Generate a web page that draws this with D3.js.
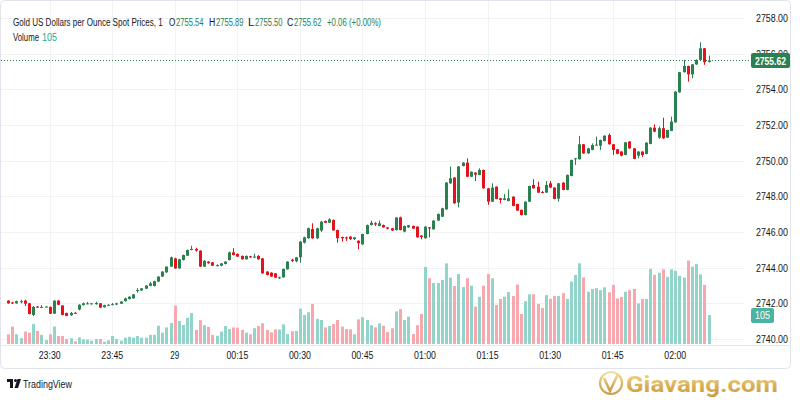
<!DOCTYPE html>
<html><head><meta charset="utf-8">
<script src="https://cdn.jsdelivr.net/npm/d3@7"></script>
<style>
html,body{margin:0;padding:0;background:#fff;}
svg{display:block;font-family:"Liberation Sans",Arial,sans-serif;}
</style>
</head><body>
<svg id="chart" width="800" height="400"></svg>
<script>
// ---- data ----
const startTime = "2024-10-28T23:20:00Z";   // first 1-minute bar
const open = [
2742.15,2742.05,2742.00,2742.08,2742.15,2742.00,2741.35,2741.82,2741.78,2741.80,
2741.80,2741.42,2742.15,2741.88,2741.46,2741.33,2741.47,2741.65,2741.90,2741.98,
2741.95,2741.95,2742.00,2741.78,2741.88,2741.92,2741.93,2741.98,2742.12,2742.24,
2742.28,2742.72,2742.72,2742.82,2742.98,2742.97,2743.22,2743.50,2743.74,2744.06,
2744.52,2743.96,2744.43,2744.67,2744.99,2745.05,2744.95,2744.06,2744.34,2744.30,
2744.12,2744.11,2744.21,2744.43,2744.86,2744.77,2744.66,2744.47,2744.64,2744.60,
2744.66,2744.52,2743.78,2743.72,2743.68,2743.42,2743.46,2743.91,2744.45,2744.36,
2744.58,2745.40,2745.65,2746.17,2745.65,2746.08,2746.62,2746.52,2746.67,2746.11,
2745.72,2745.70,2745.74,2745.60,2745.51,2745.31,2745.89,2746.39,2746.49,2746.34,
2746.39,2746.26,2746.21,2746.11,2746.82,2746.02,2746.26,2746.34,2746.30,2745.80,
2745.65,2746.26,2746.15,2746.64,2746.86,2747.27,2748.73,2749.05,2747.65,2749.70,
2749.89,2749.10,2749.33,2749.20,2749.48,2748.45,2747.70,2748.54,2747.89,2747.80,
2747.74,2747.98,2747.57,2747.24,2746.95,2747.70,2748.64,2748.54,2748.24,2748.21,
2748.73,2748.49,2747.87,2748.77,2748.36,2749.14,2750.08,2750.08,2750.92,2750.41,
2750.60,2750.88,2750.84,2751.10,2751.44,2750.92,2750.64,2750.51,2750.32,2751.07,
2750.69,2750.28,2750.51,2750.38,2750.94,2751.85,2751.29,2751.82,2751.29,2751.67,
2752.15,2753.83,2754.96,2755.31,2754.84,2755.40,2755.65,2756.30,2755.54];
const high = [
2742.17,2742.08,2742.15,2742.20,2742.20,2742.02,2741.85,2741.84,2741.90,2741.84,
2741.82,2742.17,2742.18,2741.90,2741.48,2741.52,2741.50,2741.95,2742.05,2742.08,
2742.02,2742.08,2742.02,2741.92,2741.95,2742.02,2742.03,2742.12,2742.32,2742.40,
2742.52,2742.85,2742.86,2743.02,2743.20,2743.27,2743.52,2743.80,2744.08,2744.62,
2744.56,2744.50,2744.73,2745.02,2745.23,2745.12,2744.98,2744.42,2744.36,2744.32,
2744.19,2744.26,2744.36,2744.90,2745.09,2744.80,2744.68,2744.68,2744.66,2744.78,
2744.70,2744.54,2743.80,2743.74,2743.70,2743.50,2743.95,2744.36,2744.50,2744.60,
2745.50,2745.74,2746.25,2746.49,2746.24,2746.62,2746.64,2746.77,2746.70,2746.13,
2745.74,2745.74,2745.76,2745.72,2745.53,2745.90,2746.42,2746.64,2746.55,2746.64,
2746.42,2746.28,2746.23,2746.84,2746.86,2746.36,2746.40,2746.36,2746.32,2745.83,
2746.32,2746.28,2746.66,2747.04,2747.36,2748.80,2749.67,2749.08,2749.70,2749.92,
2750.13,2749.40,2749.35,2749.57,2749.50,2748.47,2748.73,2748.56,2747.91,2748.13,
2748.39,2748.00,2747.59,2747.26,2747.72,2748.60,2748.96,2748.82,2748.30,2748.86,
2748.86,2748.51,2748.75,2748.79,2749.22,2750.06,2750.15,2751.39,2750.94,2750.72,
2750.97,2751.35,2751.18,2751.42,2751.53,2750.94,2750.66,2750.53,2751.05,2751.10,
2750.71,2750.53,2750.53,2751.03,2751.88,2752.04,2751.91,2752.41,2751.74,2752.47,
2753.90,2754.98,2755.65,2755.33,2755.42,2755.68,2756.64,2756.32,2755.89];
const low = [
2741.98,2741.97,2741.98,2742.00,2741.85,2741.38,2741.28,2741.74,2741.76,2741.78,
2741.40,2741.40,2741.90,2741.33,2741.28,2741.30,2741.40,2741.60,2741.88,2741.95,
2741.93,2741.93,2741.74,2741.76,2741.86,2741.90,2741.90,2741.96,2742.10,2742.22,
2742.26,2742.60,2742.70,2742.80,2742.96,2742.95,2743.20,2743.48,2743.70,2744.04,
2743.94,2743.94,2744.40,2744.65,2744.97,2744.90,2744.04,2744.04,2744.22,2744.10,
2744.07,2744.08,2744.18,2744.40,2744.69,2744.60,2744.45,2744.45,2744.55,2744.55,
2744.45,2743.66,2743.57,2743.48,2743.42,2743.37,2743.44,2743.89,2744.32,2744.30,
2744.28,2745.36,2745.62,2745.62,2745.60,2746.00,2746.50,2746.50,2746.07,2745.40,
2745.46,2745.50,2745.55,2745.55,2745.03,2745.28,2745.87,2746.37,2746.34,2746.32,
2746.24,2746.15,2746.06,2746.08,2746.09,2745.98,2746.24,2746.17,2745.68,2745.59,
2745.62,2745.70,2746.13,2746.62,2746.84,2747.25,2748.70,2747.58,2747.38,2749.68,
2749.08,2749.08,2748.86,2749.18,2748.43,2747.52,2747.68,2747.83,2747.61,2747.78,
2747.72,2747.44,2747.18,2746.93,2746.93,2747.68,2748.43,2748.19,2748.17,2748.19,
2748.47,2747.83,2747.70,2748.34,2748.34,2749.12,2749.76,2750.06,2750.39,2750.38,
2750.58,2750.84,2750.60,2751.08,2750.90,2750.32,2750.36,2750.24,2750.30,2750.67,
2750.08,2750.13,2750.20,2750.36,2750.92,2751.60,2751.22,2751.22,2751.27,2751.65,
2752.13,2753.81,2754.94,2754.43,2754.62,2755.37,2755.62,2755.37,2755.50];
const close = [
2742.00,2742.00,2742.12,2742.12,2741.98,2741.40,2741.80,2741.76,2741.80,2741.82,
2741.42,2742.15,2741.92,2741.35,2741.30,2741.46,2741.42,2741.92,2742.00,2742.00,
2742.00,2742.02,2741.76,2741.90,2741.92,2741.95,2742.00,2742.10,2742.28,2742.37,
2742.50,2742.75,2742.84,2743.00,2743.12,2743.24,2743.50,2743.78,2744.06,2744.58,
2743.96,2744.47,2744.71,2744.99,2745.05,2744.96,2744.06,2744.39,2744.25,2744.11,
2744.14,2744.24,2744.34,2744.86,2744.71,2744.62,2744.47,2744.66,2744.58,2744.62,
2744.47,2743.68,2743.59,2743.50,2743.44,2743.46,2743.93,2744.34,2744.38,2744.58,
2745.46,2745.70,2746.21,2745.65,2746.21,2746.58,2746.52,2746.71,2746.09,2745.65,
2745.65,2745.66,2745.60,2745.70,2745.37,2745.89,2746.39,2746.52,2746.42,2746.49,
2746.26,2746.19,2746.08,2746.81,2746.11,2746.34,2746.38,2746.19,2745.70,2745.72,
2746.30,2746.21,2746.64,2747.01,2747.33,2748.77,2749.01,2747.61,2749.67,2749.89,
2749.10,2749.38,2749.22,2749.48,2748.45,2747.70,2748.49,2747.85,2747.80,2747.89,
2747.89,2747.46,2747.20,2746.95,2747.70,2748.58,2748.45,2748.21,2748.20,2748.64,
2748.49,2747.85,2748.73,2748.36,2749.20,2750.04,2750.13,2750.92,2750.41,2750.69,
2750.88,2750.90,2751.16,2751.40,2750.92,2750.60,2750.38,2750.28,2751.03,2750.69,
2750.10,2750.51,2750.32,2751.01,2751.85,2751.63,2751.82,2751.25,2751.72,2752.19,
2753.87,2754.96,2755.31,2754.84,2755.40,2755.65,2756.30,2755.52,2755.62];
const volume = [
35,63,35,21,45,41,72,47,33,14,
35,63,29,29,18,21,10,24,17,16,
12,18,18,8,13,29,18,12,23,26,
23,29,23,23,33,33,66,41,60,76,
139,83,69,95,112,51,86,68,62,33,
30,45,65,54,60,59,51,41,35,57,
65,75,51,42,53,53,71,36,46,47,
128,105,115,145,91,87,60,65,72,87,
63,54,53,35,89,97,87,68,60,75,
66,43,57,118,126,87,99,36,68,109,
279,238,221,221,232,292,240,210,253,206,
238,211,135,171,211,253,238,141,163,171,
188,174,215,109,155,180,180,145,130,177,
163,174,174,184,163,226,250,292,241,189,
199,202,195,205,187,214,165,170,189,195,
199,147,163,163,272,250,258,270,243,270,
265,247,240,302,280,289,252,214,105];
const priceTicks = [2740,2742,2744,2746,2748,2750,2752,2754,2756,2758];
const titleText = "Gold US Dollars per Ounce Spot Prices, 1";
const ohlcLabels = ["O","H","L","C"];
const lastOHLC = [2755.54, 2755.89, 2755.50, 2755.62];
const changeText = "+0.06 (+0.00%)";
const lastVolume = 105;

// ---- styles ----
const UP = "#2b8050", DOWN = "#e3131b";
const VUP = "#92d4c9", VDOWN = "#f6a8ae";
const GRID = "#f0f2f6", TXT = "#131722";

const svg = d3.select("#chart");
const t0 = new Date(startTime);
const times = open.map((_, i) => d3.utcMinute.offset(t0, i));
const x = d3.scaleUtc().domain([times[0], times[times.length - 1]]).range([8, 708.6]);
const y = d3.scaleLinear().domain([2740, 2758]).range([339, 18]);
const yv = d3.scaleLinear().domain([0, 380]).range([344, 239]);

// text helper: draws text then squeezes it horizontally to the wanted width
function fitText(parent, str, px, py, width, opts = {}) {
  const g = parent.append("g");
  const t = g.append("text").attr("x", 0).attr("y", 0)
    .attr("font-size", opts.size || 11.5)
    .attr("fill", opts.fill || TXT)
    .attr("text-anchor", opts.anchor || "start")
    .text(str);
  if (opts.weight) t.attr("font-weight", opts.weight);
  if (opts.family) t.attr("font-family", opts.family);
  if (opts.opacity) t.attr("opacity", opts.opacity);
  const w = t.node().getComputedTextLength() || width;
  g.attr("transform", `translate(${px},${py}) scale(${width / w},1)`);
  return t;
}

// frame
svg.append("rect").attr("x", 0.5).attr("y", 0.5).attr("width", 790).attr("height", 368)
  .attr("rx", 4).attr("fill", "#fff").attr("stroke", "#e0e3eb");

// grid
const gGrid = svg.append("g");
gGrid.selectAll("line.h").data(priceTicks).join("line")
  .attr("x1", 1).attr("x2", 745)
  .attr("y1", d => Math.round(y(d)) + 0.5).attr("y2", d => Math.round(y(d)) + 0.5)
  .attr("stroke", GRID);
const xTicks = x.ticks(d3.utcMinute.every(15));
gGrid.selectAll("line.v").data(xTicks).join("line")
  .attr("x1", d => Math.round(x(d)) + 0.5).attr("x2", d => Math.round(x(d)) + 0.5)
  .attr("y1", 1).attr("y2", 345).attr("stroke", GRID);
svg.append("line").attr("x1", 1).attr("x2", 790).attr("y1", 345.5).attr("y2", 345.5).attr("stroke", "#e6e8ee");

// volume bars
const idx = d3.range(open.length);
svg.append("g").selectAll("rect").data(idx).join("rect")
  .attr("x", i => Math.round(x(times[i])) - 1)
  .attr("width", 3)
  .attr("y", i => yv(volume[i]))
  .attr("height", i => yv(0) - yv(volume[i]))
  .attr("fill", i => close[i] >= open[i] ? VUP : VDOWN);

// candles
const gC = svg.append("g");
gC.selectAll("line").data(idx).join("line")
  .attr("x1", i => Math.round(x(times[i])) + 0.5).attr("x2", i => Math.round(x(times[i])) + 0.5)
  .attr("y1", i => y(high[i])).attr("y2", i => y(low[i]))
  .attr("stroke", i => close[i] >= open[i] ? UP : DOWN).attr("stroke-width", 1);
gC.selectAll("rect").data(idx).join("rect")
  .attr("x", i => Math.round(x(times[i])) - 1)
  .attr("width", 3)
  .attr("y", i => y(Math.max(open[i], close[i])))
  .attr("height", i => Math.max(1, Math.abs(y(open[i]) - y(close[i]))))
  .attr("fill", i => close[i] >= open[i] ? UP : DOWN);

// last price dotted line
const lastClose = close[close.length - 1];
svg.append("line").attr("x1", 1).attr("x2", 750)
  .attr("y1", Math.round(y(lastClose)) + 0.5).attr("y2", Math.round(y(lastClose)) + 0.5)
  .attr("stroke", UP).attr("stroke-dasharray", "1,2");

// price axis labels (skip the two hidden behind the value boxes partly: draw all, boxes cover)
const gY = svg.append("g");
priceTicks.forEach(p => fitText(gY, d3.format(".2f")(p), 756, y(p) + 4, 32, { size: 11 }));

// time axis labels
const fmtT = d => (d.getUTCHours() === 0 && d.getUTCMinutes() === 0) ? d3.utcFormat("%-d")(d) : d3.utcFormat("%H:%M")(d);
const gX = svg.append("g");
xTicks.forEach(d => {
  const s = fmtT(d);
  fitText(gX, s, x(d), 359, s.length === 2 ? 9 : 22, { size: 11, anchor: "middle" });
});

// last price label
svg.append("rect").attr("x", 751).attr("y", Math.round(y(lastClose)) - 7).attr("width", 39).attr("height", 15)
  .attr("rx", 2).attr("fill", UP);
fitText(svg, d3.format(".2f")(lastClose), 755, y(lastClose) + 4.5, 31, { size: 11, weight: "bold", fill: "#fff" });
// last volume label
const lv = volume[volume.length - 1];
svg.append("rect").attr("x", 751).attr("y", Math.round(yv(lv)) - 7).attr("width", 23).attr("height", 15)
  .attr("rx", 2).attr("fill", "#4bb3a1");
fitText(svg, String(lv), 755, yv(lv) + 4.5, 15, { size: 11, fill: "#fff" });

// header legend
fitText(svg, titleText, 13, 26, 150);
const ohlcX = [169, 209, 248, 287];
ohlcLabels.forEach((lab, k) => {
  fitText(svg, lab, ohlcX[k], 26, 6.3);
  fitText(svg, d3.format(".2f")(lastOHLC[k]), ohlcX[k] + 7, 26, 27.5, { fill: UP });
});
fitText(svg, changeText, 327, 26, 54, { fill: UP });
fitText(svg, "Volume", 13, 41, 26);
fitText(svg, String(lastVolume), 42, 41, 15, { fill: "#22ab94" });

// TradingView logo
const tv = svg.append("g").attr("fill", TXT);
tv.append("rect").attr("x", 7).attr("y", 379).attr("width", 6).attr("height", 3);
tv.append("rect").attr("x", 10).attr("y", 379).attr("width", 3).attr("height", 9);
tv.append("circle").attr("cx", 15.5).attr("cy", 380.5).attr("r", 1.5);
tv.append("path").attr("d", "M17.5 379 L21 379 L18 388 L14.5 388 Z");
fitText(svg, "TradingView", 23, 388, 49, { size: 11 });

// Giavang watermark
const defs = svg.append("defs");
const grad = defs.append("linearGradient").attr("id", "gold").attr("x1", 0).attr("y1", 0).attr("x2", 0).attr("y2", 1);
grad.append("stop").attr("offset", "0%").attr("stop-color", "#f3d98a");
grad.append("stop").attr("offset", "55%").attr("stop-color", "#d6a741");
grad.append("stop").attr("offset", "100%").attr("stop-color", "#c08f2c");
svg.append("circle").attr("cx", 611).attr("cy", 383).attr("r", 11)
  .attr("fill", "none").attr("stroke", "url(#gold)").attr("stroke-width", 2.2).attr("opacity", 0.85);
svg.append("path").attr("d", "M604 378 L610 391 L618 374")
  .attr("fill", "none").attr("stroke", "url(#gold)").attr("stroke-width", 2.6).attr("opacity", 0.85);
fitText(svg, "Giavang.com", 626, 392, 152, { size: 22, weight: "bold", fill: "url(#gold)",
  family: "Roboto, 'Liberation Sans', sans-serif", opacity: 0.9 });
</script>
</body></html>
